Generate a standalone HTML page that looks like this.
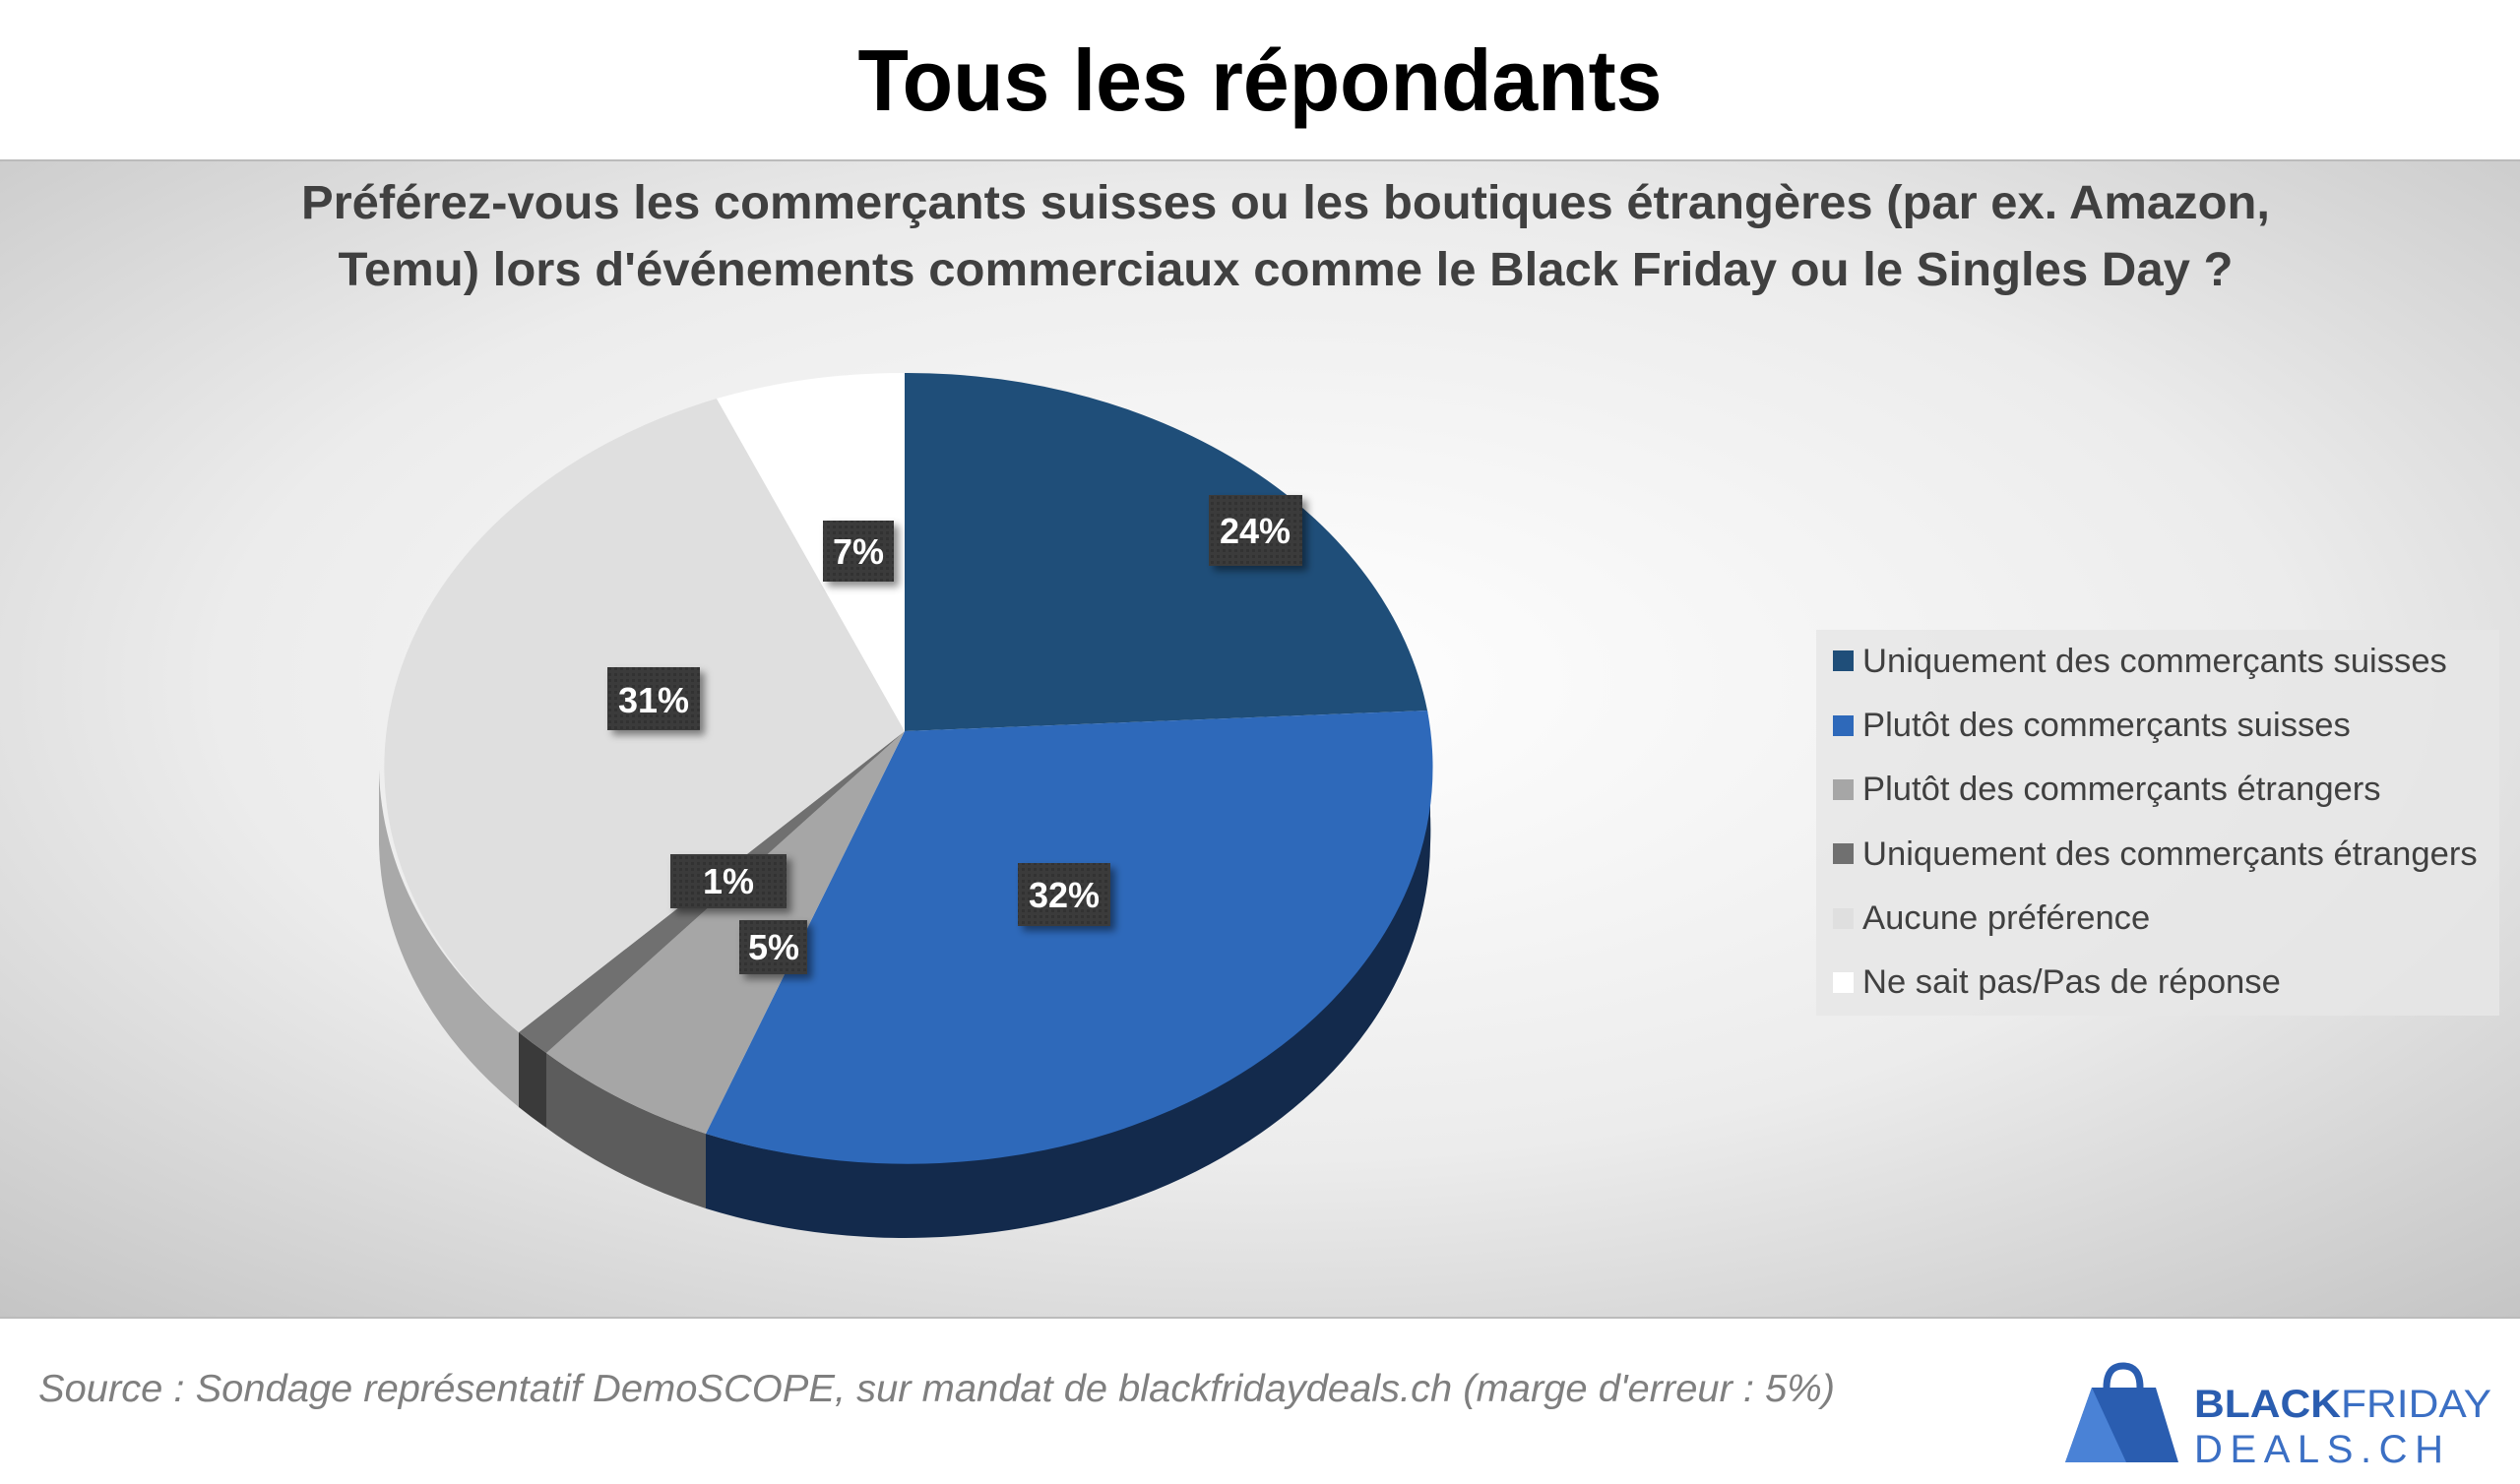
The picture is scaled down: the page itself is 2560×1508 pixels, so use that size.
<!DOCTYPE html>
<html><head><meta charset="utf-8"><style>
html,body{margin:0;padding:0;background:#fff;}
svg{display:block;}
text{font-family:"Liberation Sans",sans-serif;}
</style></head><body>
<svg width="2560" height="1508" viewBox="0 0 2560 1508" xmlns="http://www.w3.org/2000/svg">
<defs>
<radialGradient id="bg" cx="50%" cy="45%" r="75%">
<stop offset="0" stop-color="#ffffff"/><stop offset="0.55" stop-color="#ececec"/><stop offset="1" stop-color="#c4c4c4"/>
</radialGradient>
<filter id="sh" x="-30%" y="-30%" width="170%" height="170%"><feDropShadow dx="5" dy="5" stdDeviation="4" flood-color="#000" flood-opacity="0.45"/></filter>
<pattern id="dots" width="6" height="6" patternUnits="userSpaceOnUse"><rect width="6" height="6" fill="#3a3a3a"/><rect width="3" height="3" fill="#333"/></pattern>
</defs>
<rect width="2560" height="1508" fill="#fff"/>
<text x="1280" y="112" text-anchor="middle" font-size="88" font-weight="bold" fill="#000" textLength="817" lengthAdjust="spacingAndGlyphs">Tous les répondants</text>
<rect x="0" y="163" width="2560" height="1176" fill="url(#bg)"/>
<line x1="0" y1="163" x2="2560" y2="163" stroke="#bbb" stroke-width="2"/>
<line x1="0" y1="1339" x2="2560" y2="1339" stroke="#bbb" stroke-width="2"/>
<text x="1306" y="222" text-anchor="middle" font-size="48" font-weight="bold" fill="#404040" textLength="2000" lengthAdjust="spacingAndGlyphs">Préférez-vous les commerçants suisses ou les boutiques étrangères (par ex. Amazon,</text>
<text x="1306" y="290" text-anchor="middle" font-size="48" font-weight="bold" fill="#404040" textLength="1925" lengthAdjust="spacingAndGlyphs">Temu) lors d'événements commerciaux comme le Black Friday ou le Singles Day ?</text>

<!-- side walls -->
<path d="M1450 722 A534 403 0 0 1 1453 782 L1453 858 A534 403 0 0 0 1450 798 Z" fill="#16385a"/>
<path d="M1453 782 A534 403 0 0 1 717 1152 L717 1228 A534 403 0 0 0 1453 858 Z" fill="#132a4c"/>
<path d="M717 1152 A534 403 0 0 1 555 1070 L555 1146 A534 403 0 0 0 717 1228 Z" fill="#5c5c5c"/>
<path d="M555 1070 A534 403 0 0 1 527 1049 L527 1125 A534 403 0 0 0 555 1146 Z" fill="#3a3a3a"/>
<path d="M527 1049 A534 403 0 0 1 385 782 L385 858 A534 403 0 0 0 527 1125 Z" fill="#a9a9a9"/>
<!-- top faces -->
<path d="M919 743 L919 379 A534 403 0 0 1 1450 722 Z" fill="#1f4e79"/>
<path d="M919 743 L1450 722 A534 403 0 0 1 717 1152 Z" fill="#2e69ba"/>
<path d="M919 743 L717 1152 A534 403 0 0 1 555 1070 Z" fill="#a6a6a6"/>
<path d="M919 743 L555 1070 A534 403 0 0 1 527 1049 Z" fill="#707070"/>
<path d="M919 743 L527 1049 A534 403 0 0 1 728 405 Z" fill="#dfdfdf"/>
<path d="M919 743 L728 405 A534 403 0 0 1 919 379 Z" fill="#ffffff"/>

<!-- labels -->
<g font-size="36" font-weight="bold" fill="#fff" text-anchor="middle">
<rect x="1228" y="503" width="95" height="72" fill="url(#dots)" filter="url(#sh)"/><text x="1275" y="552">24%</text>
<rect x="836" y="529" width="72" height="62" fill="url(#dots)" filter="url(#sh)"/><text x="872" y="573">7%</text>
<rect x="617" y="678" width="94" height="64" fill="url(#dots)" filter="url(#sh)"/><text x="664" y="724">31%</text>
<rect x="681" y="868" width="118" height="55" fill="url(#dots)" filter="url(#sh)"/><text x="740" y="908">1%</text>
<rect x="751" y="935" width="69" height="55" fill="url(#dots)" filter="url(#sh)"/><text x="786" y="975">5%</text>
<rect x="1034" y="877" width="94" height="64" fill="url(#dots)" filter="url(#sh)"/><text x="1081" y="922">32%</text>
</g>

<!-- legend -->
<rect x="1845" y="640" width="694" height="392" fill="#e6e6e6" opacity="0.85"/>
<g font-size="34.6" fill="#404040">
<rect x="1862" y="661" width="21" height="21" fill="#1f4e79"/><text x="1892" y="683">Uniquement des commerçants suisses</text>
<rect x="1862" y="727" width="21" height="21" fill="#2e69ba"/><text x="1892" y="748">Plutôt des commerçants suisses</text>
<rect x="1862" y="792" width="21" height="21" fill="#a6a6a6"/><text x="1892" y="813">Plutôt des commerçants étrangers</text>
<rect x="1862" y="857" width="21" height="21" fill="#707070"/><text x="1892" y="879">Uniquement des commerçants étrangers</text>
<rect x="1862" y="923" width="21" height="21" fill="#dfdfdf"/><text x="1892" y="944">Aucune préférence</text>
<rect x="1862" y="988" width="21" height="21" fill="#ffffff"/><text x="1892" y="1009">Ne sait pas/Pas de réponse</text>
</g>

<!-- footer -->
<text x="39" y="1424" font-size="39" font-style="italic" fill="#7f7f7f" textLength="1825" lengthAdjust="spacingAndGlyphs">Source : Sondage représentatif DemoSCOPE, sur mandat de blackfridaydeals.ch (marge d'erreur : 5%)</text>
<g>
<path d="M2098 1486 L2125 1410 L2190 1410 L2213 1486 Z" fill="#2a5db0"/>
<path d="M2125 1410 L2160 1486 L2098 1486 Z" fill="#4a82d6"/>
<path d="M2140 1410 Q2140 1388 2157 1388 Q2174 1388 2174 1410" fill="none" stroke="#2a5db0" stroke-width="7"/>
<text x="2229" y="1440" font-size="40" fill="#2a5db0" textLength="302" lengthAdjust="spacingAndGlyphs"><tspan font-weight="bold">BLACK</tspan><tspan fill="#3b6fc4">FRIDAY</tspan></text>
<text x="2229" y="1486" font-size="40" fill="#3b6fc4" textLength="253" lengthAdjust="spacing">DEALS.CH</text>
</g>
</svg>
</body></html>
